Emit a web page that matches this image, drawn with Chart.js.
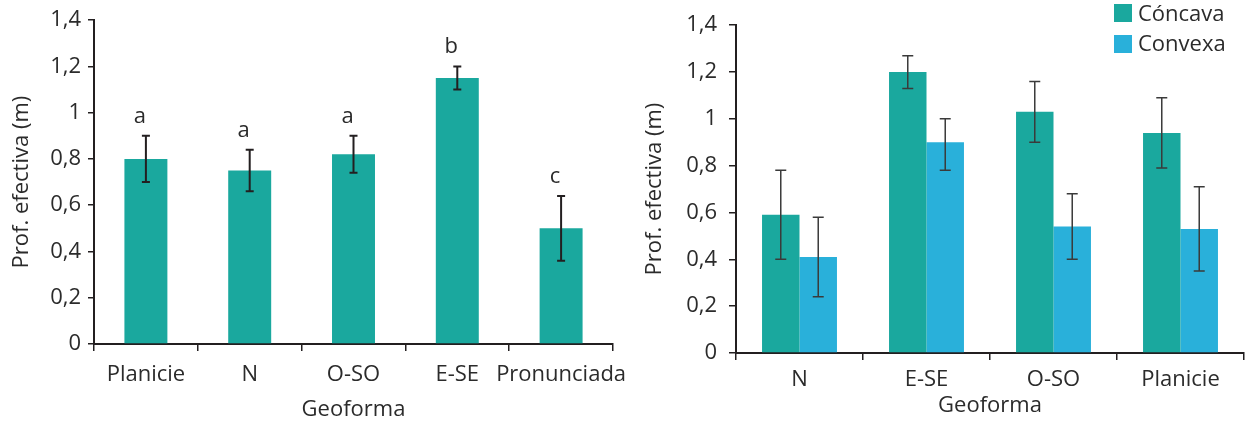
<!DOCTYPE html>
<html>
<head>
<meta charset="utf-8">
<script src="https://cdn.jsdelivr.net/npm/chart.js@4.4.0/dist/chart.umd.min.js"></script>
<style>
  body { margin: 0; background: #fff; font-family: 'Open Sans', sans-serif; }
  #wrap { position: relative; width: 1245px; height: 425px; overflow: hidden; }
  canvas { position: absolute; top: 0; }
  #left { left: 0; }
  #right { left: 640px; }
  .sw { position: absolute; left: 1114px; width: 18px; height: 18px; }
  .lt { position: absolute; left: 1138px; font-size: 22px; line-height: 25px; color: #2b2b2b; }
</style>
</head>
<body>
<div id="wrap">
  <canvas id="left" width="640" height="425"></canvas>
  <canvas id="right" width="605" height="425"></canvas>
  <div class="sw" style="top:4px;background:#1aa89e"></div>
  <div class="lt" style="top:0px">Cóncava</div>
  <div class="sw" style="top:35px;background:#29b0da"></div>
  <div class="lt" style="top:30px">Convexa</div>
</div>
<script>
// ---- data ----
const geoformaLeft = ['Planicie', 'N', 'O-SO', 'E-SE', 'Pronunciada'];
const profLeft = [0.80, 0.75, 0.82, 1.15, 0.50];
const profLeftHigh = [0.90, 0.84, 0.90, 1.20, 0.64];
const profLeftLow = [0.70, 0.66, 0.74, 1.10, 0.36];
const letrasLeft = ['a', 'a', 'a', 'b', 'c'];

const geoformaRight = ['N', 'E-SE', 'O-SO', 'Planicie'];
const concava = [0.59, 1.20, 1.03, 0.94];
const concavaHigh = [0.78, 1.27, 1.16, 1.09];
const concavaLow = [0.40, 1.13, 0.90, 0.79];
const convexa = [0.41, 0.90, 0.54, 0.53];
const convexaHigh = [0.58, 1.00, 0.68, 0.71];
const convexaLow = [0.24, 0.78, 0.40, 0.35];

const TEAL = '#1aa89e';
const BLUE = '#29b0da';
const INK = '#231f20';

Chart.defaults.font.family = "'Open Sans', sans-serif";
Chart.defaults.font.size = 22;
Chart.defaults.color = '#2b2b2b';

// error bars + letters drawn from the datasets' extra arrays
const errorBars = {
  id: 'errorBars',
  afterDatasetsDraw(chart) {
    const ctx = chart.ctx;
    const y = chart.scales.y;
    chart.data.datasets.forEach((ds, di) => {
      const meta = chart.getDatasetMeta(di);
      meta.data.forEach((bar, i) => {
        const top = y.getPixelForValue(ds.errHigh[i]);
        const bot = y.getPixelForValue(ds.errLow[i]);
        const half = ds.capWidth / 2;
        ctx.save();
        ctx.strokeStyle = ds.errColor;
        ctx.lineWidth = ds.errWidth;
        ctx.beginPath();
        ctx.moveTo(bar.x, top); ctx.lineTo(bar.x, bot);
        ctx.moveTo(bar.x - half, top); ctx.lineTo(bar.x + half, top);
        ctx.moveTo(bar.x - half, bot); ctx.lineTo(bar.x + half, bot);
        ctx.stroke();
        if (ds.letters) {
          ctx.fillStyle = '#2b2b2b';
          ctx.font = "22px 'Open Sans', sans-serif";
          ctx.textAlign = 'center';
          ctx.textBaseline = 'alphabetic';
          ctx.fillText(ds.letters[i], bar.x - 6, top - 13);
        }
        ctx.restore();
      });
    });
  }
};

const fmt = v => String(Math.round(v * 10) / 10).replace('.', ',');

function axes(yWidth, yTitlePad, xHeight, xTickPad, xTitlePad) {
  return {
    x: {
      grid: { display: true, drawOnChartArea: false, tickLength: 7, color: INK, lineWidth: 1.5 },
      border: { display: true, color: INK, width: 2 },
      ticks: { padding: xTickPad, color: '#2b2b2b', maxRotation: 0, minRotation: 0, autoSkip: false },
      title: { display: true, text: 'Geoforma', padding: { top: 0, bottom: xTitlePad } },
      afterFit: s => { s.height = xHeight; }
    },
    y: {
      min: 0, max: 1.4,
      grid: { display: true, drawOnChartArea: false, tickLength: 6, color: INK, lineWidth: 1.5 },
      border: { display: true, color: INK, width: 2 },
      ticks: { stepSize: 0.2, padding: 7, callback: fmt, color: '#2b2b2b' },
      title: { display: true, text: 'Prof. efectiva (m)', padding: { top: yTitlePad, bottom: 0 } },
      afterFit: s => { s.width = yWidth; }
    }
  };
}

// ---- left chart ----
new Chart(document.getElementById('left'), {
  type: 'bar',
  data: {
    labels: geoformaLeft,
    datasets: [{
      data: profLeft,
      backgroundColor: TEAL,
      barPercentage: 0.414,
      categoryPercentage: 1,
      errHigh: profLeftHigh, errLow: profLeftLow,
      errColor: INK, errWidth: 2, capWidth: 8,
      letters: letrasLeft
    }]
  },
  options: {
    responsive: false, animation: false, devicePixelRatio: 1,
    layout: { padding: { top: 20, right: 27, left: 0, bottom: 0 } },
    plugins: { legend: { display: false }, tooltip: { enabled: false } },
    scales: axes(94, 9, 81, 11, 2)
  },
  plugins: [errorBars]
});

// ---- right chart ----
const rightScales = axes(96, 2, 72, 7, 6);
rightScales.y.ticks.padding = 12;
rightScales.y.grid.tickLength = 7;
new Chart(document.getElementById('right'), {
  type: 'bar',
  data: {
    labels: geoformaRight,
    datasets: [{
      label: 'Cóncava',
      data: concava,
      backgroundColor: TEAL,
      barPercentage: 1,
      categoryPercentage: 0.59,
      errHigh: concavaHigh, errLow: concavaLow,
      errColor: '#3a3a3a', errWidth: 1.5, capWidth: 11
    }, {
      label: 'Convexa',
      data: convexa,
      backgroundColor: BLUE,
      barPercentage: 1,
      categoryPercentage: 0.59,
      errHigh: convexaHigh, errLow: convexaLow,
      errColor: '#3a3a3a', errWidth: 1.5, capWidth: 11
    }]
  },
  options: {
    responsive: false, animation: false, devicePixelRatio: 1,
    layout: { padding: { top: 21, right: 1, left: 0, bottom: 0 } },
    plugins: { legend: { display: false }, tooltip: { enabled: false } },
    scales: rightScales
  },
  plugins: [errorBars]
});
</script>
</body>
</html>
